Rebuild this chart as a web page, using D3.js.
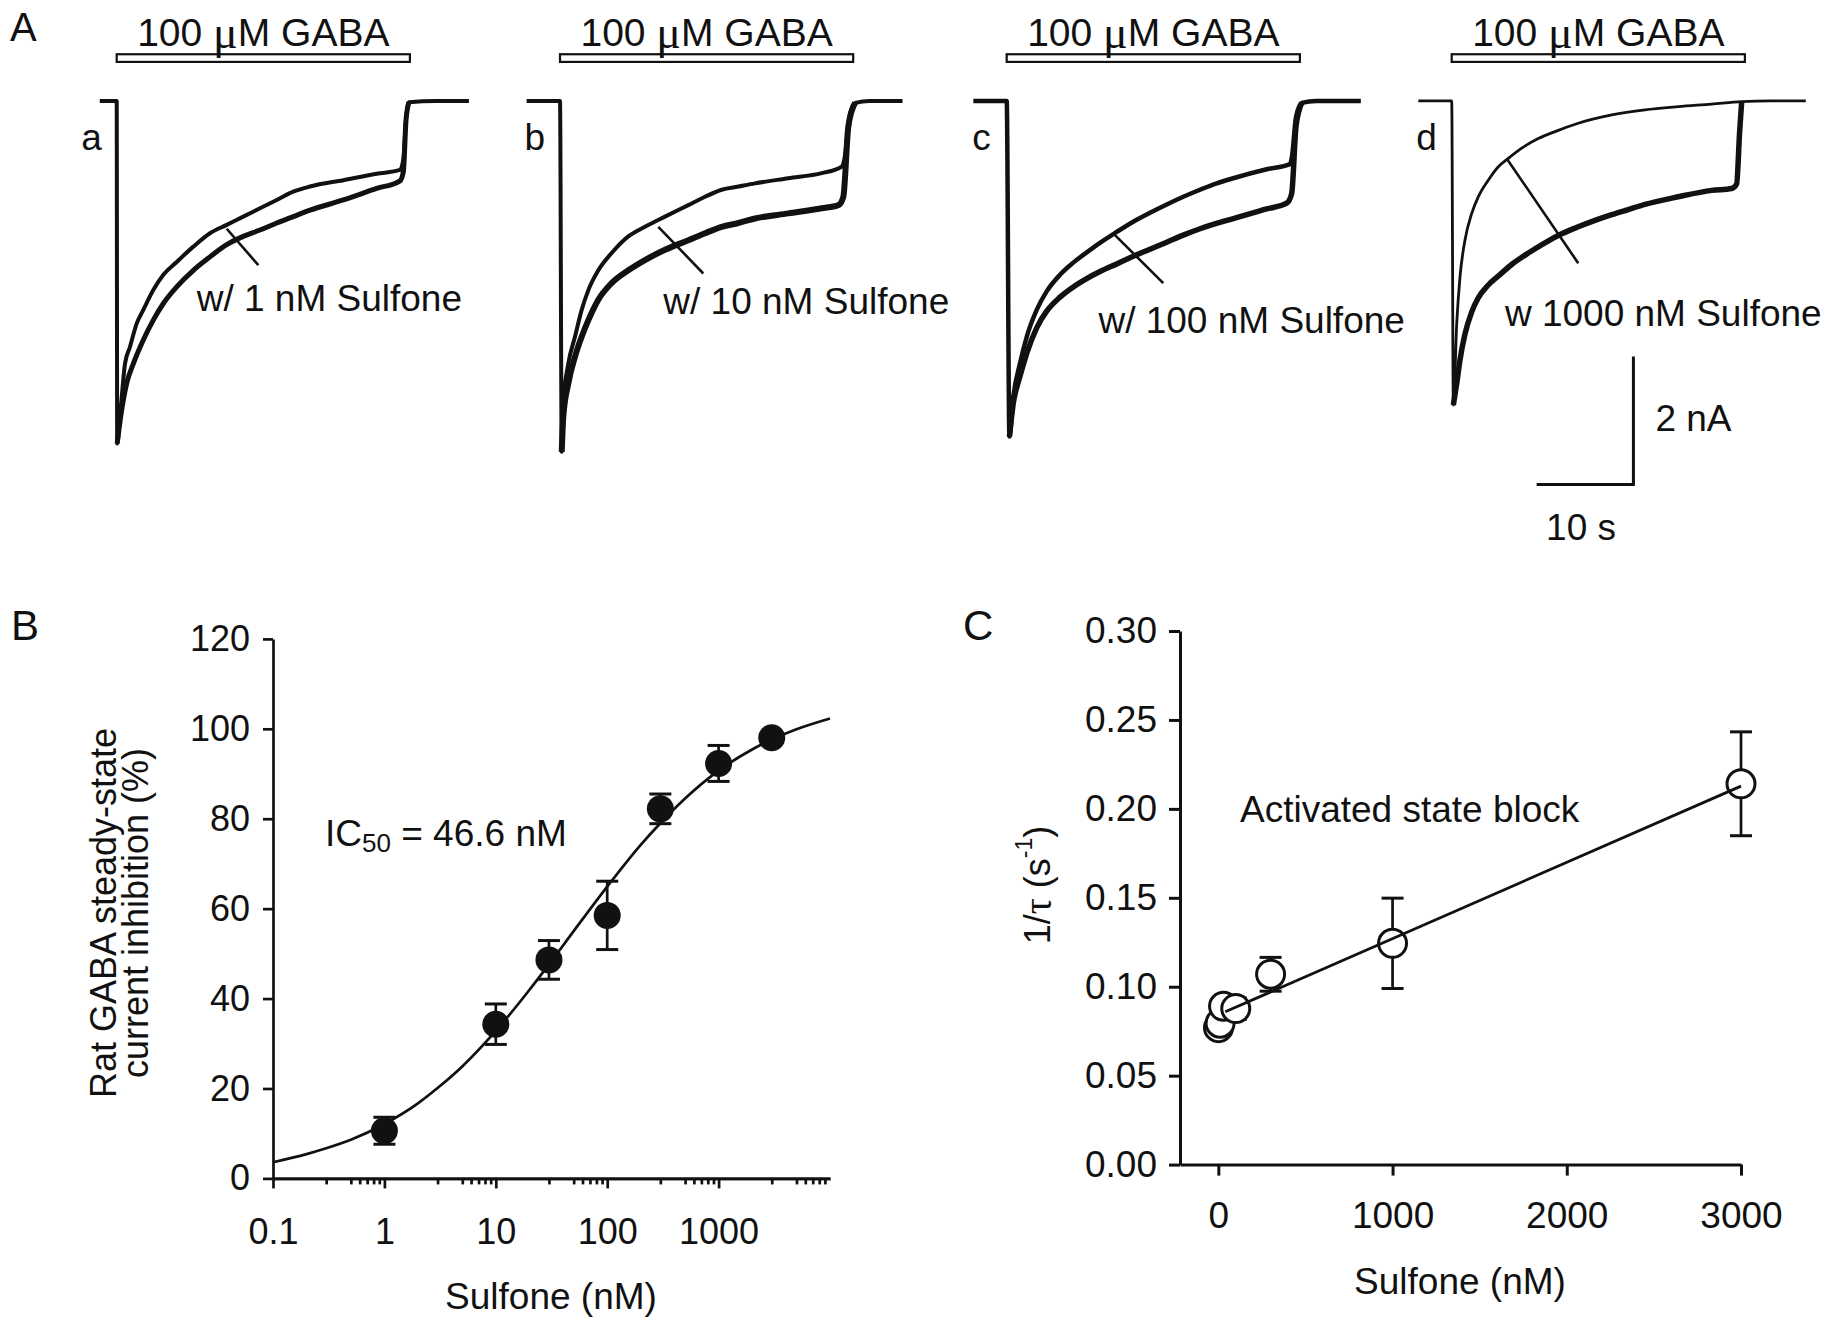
<!DOCTYPE html>
<html><head><meta charset="utf-8">
<script src="https://cdn.jsdelivr.net/npm/d3@7"></script>
<style>
body{margin:0;background:#fff}
svg{display:block;background:#fff}
text{font-family:"Liberation Sans",Arial,sans-serif;fill:#111}
.sym{font-family:"Liberation Serif","Times New Roman",serif}
</style>
</head><body>
<svg id="fig" width="1839" height="1317"></svg>
<script>
// ---------------- Panel A data (time in s, current in nA) ----------------
const gabaOn = [0, 30.3];
const subLabels = ["a", "b", "c", "d"];
const drugLabels = ["w/ 1 nM Sulfone", "w/ 10 nM Sulfone", "w/ 100 nM Sulfone", "w 1000 nM Sulfone"];

const ctrlA_t = [-1.75, 0, 0.05, 0.34, 0.86, 1.37, 2.07, 2.75, 3.78, 4.82, 6.20, 7.92, 9.64, 11.37, 13.08, 14.81, 16.54, 18.25, 19.98, 23.42, 26.87, 29.28, 29.63, 29.9, 30.2, 33, 36.4];
const ctrlA_I = [0, 0, -5.36, -4.94, -4.11, -3.85, -3.48, -3.27, -2.96, -2.72, -2.52, -2.28, -2.07, -1.94, -1.81, -1.68, -1.55, -1.42, -1.34, -1.24, -1.14, -1.08, -0.9, -0.3, -0.02, 0, 0];
const drugA_t = [0.05, 0.4, 1.03, 1.72, 2.75, 3.78, 4.82, 6.20, 7.92, 9.64, 11.37, 13.08, 14.81, 16.54, 18.25, 19.98, 23.42, 26.87, 29.28, 29.63, 29.9, 30.2];
const drugA_I = [-5.36, -4.95, -4.42, -4.11, -3.74, -3.43, -3.17, -2.91, -2.65, -2.44, -2.25, -2.12, -2.02, -1.91, -1.81, -1.71, -1.55, -1.37, -1.25, -1.1, -0.3, -0.02];

const ctrlB_t = [-3.45, 0, 0.18, 0.34, 0.86, 1.55, 2.24, 2.93, 3.96, 5.34, 7.06, 8.78, 10.85, 13.26, 14.99, 16.71, 18.43, 20.15, 23.6, 27.05, 29.11, 29.4, 29.9, 30.5, 32, 35.4];
const ctrlB_I = [0, 0, -5.49, -4.73, -4.11, -3.69, -3.27, -2.96, -2.65, -2.38, -2.12, -1.97, -1.81, -1.63, -1.50, -1.39, -1.34, -1.29, -1.21, -1.13, -1.03, -0.9, -0.25, -0.03, 0, 0];
const drugB_t = [0.18, 0.34, 0.86, 1.55, 2.24, 2.93, 3.96, 5.34, 7.06, 8.78, 10.85, 13.26, 14.99, 16.71, 18.43, 20.15, 23.6, 27.05, 28.77, 29.28, 29.8, 30.5];
const drugB_I = [-5.49, -4.94, -4.42, -4.0, -3.69, -3.43, -3.11, -2.85, -2.65, -2.49, -2.33, -2.18, -2.07, -1.97, -1.91, -1.84, -1.76, -1.68, -1.63, -1.5, -0.4, -0.03];

const ctrlC_t = [-3.45, 0, 0.28, 0.68, 1.37, 2.07, 3.10, 4.13, 5.51, 6.88, 8.27, 9.64, 11.37, 13.08, 14.81, 16.54, 18.25, 19.98, 21.70, 23.42, 26.87, 29.28, 29.5, 29.9, 30.5, 32, 36.6];
const ctrlC_I = [0, 0, -5.25, -4.63, -4.11, -3.69, -3.27, -2.98, -2.72, -2.53, -2.37, -2.22, -2.05, -1.89, -1.75, -1.62, -1.50, -1.39, -1.29, -1.21, -1.07, -0.99, -0.85, -0.25, -0.03, 0, 0];
const drugC_t = [0.28, 0.68, 1.37, 2.07, 3.10, 4.13, 5.51, 6.88, 8.27, 9.64, 11.37, 13.08, 14.81, 16.54, 18.25, 19.98, 23.42, 26.87, 28.94, 29.45, 29.9, 30.5];
const drugC_I = [-5.25, -4.73, -4.31, -3.95, -3.55, -3.29, -3.07, -2.91, -2.78, -2.67, -2.55, -2.43, -2.32, -2.21, -2.10, -2.00, -1.84, -1.69, -1.60, -1.45, -0.4, -0.03];

const ctrlD_t = [-3.45, 0, 0.17, 0.52, 0.86, 1.37, 2.07, 2.75, 3.78, 4.82, 5.85, 7.23, 8.95, 10.68, 13.08, 16.54, 19.98, 23.42, 26.87, 29.97, 33, 36.6];
const ctrlD_I = [0, 0, -4.76, -3.48, -2.75, -2.18, -1.76, -1.50, -1.24, -1.03, -0.90, -0.74, -0.59, -0.48, -0.35, -0.22, -0.14, -0.09, -0.05, -0.01, 0, 0];
const drugD_t = [0.17, 0.52, 0.86, 1.37, 2.07, 2.75, 3.78, 4.82, 6.20, 7.92, 9.64, 11.37, 13.08, 14.81, 16.54, 18.25, 19.98, 23.42, 26.87, 28.94, 29.45, 29.75, 29.97];
const drugD_I = [-4.76, -4.42, -4.05, -3.65, -3.30, -3.08, -2.88, -2.74, -2.56, -2.38, -2.22, -2.08, -1.97, -1.87, -1.78, -1.70, -1.62, -1.50, -1.40, -1.37, -1.3, -0.5, -0.01];

// pointer lines [t0, I0, t1, I1]
const pointerA = [11.37, -2.0, 14.64, -2.57];
const pointerB = [10.16, -1.97, 14.81, -2.70];
const pointerC = [11.19, -2.10, 16.18, -2.85];
const pointerD = [5.68, -0.90, 13.08, -2.54];

// scale bar (panel d units)
const scaleBarT = [8.78, 18.78];
const scaleBarI = [-4.0, -6.0];
const scaleBarLabels = ["2 nA", "10 s"];

// ---------------- Panel B data ----------------
const bConc = [1, 10, 30, 100, 300, 1000, 3000];
const bInhib = [10.6, 34.3, 48.6, 58.5, 82.2, 92.3, 98.0];
const bErr = [3.0, 4.5, 4.3, 7.6, 3.3, 4.0, 1.0];
const bFitX = [0.1, 0.2, 0.3, 0.5, 1, 2, 3, 5, 10, 20, 30, 50, 100, 200, 300, 500, 1000, 2000, 3000, 5000, 10000];
const bFitY = [3.6, 5.4, 6.7, 8.6, 12.1, 16.7, 20.1, 24.9, 32.8, 41.9, 47.6, 55.0, 64.9, 74.2, 79.0, 84.5, 90.7, 95.4, 97.6, 99.9, 102.3];
const bYTicks = [0, 20, 40, 60, 80, 100, 120];
const bXTicks = [0.1, 1, 10, 100, 1000];
const bXTickLabels = ["0.1", "1", "10", "100", "1000"];
const bMinorMult = [3, 5, 6, 7, 8, 9];

// ---------------- Panel C data ----------------
const cConc = [1, 10, 30, 100, 300, 1000, 3000];
const cRate = [0.077, 0.0795, 0.089, 0.0877, 0.107, 0.1244, 0.2141];
const cErr = [0.002, 0.003, 0.002, 0.006, 0.0095, 0.0254, 0.0292];
const cFitX = [40, 3000];
const cFitY = [0.0859, 0.2128];
const cYTicks = [0, 0.05, 0.10, 0.15, 0.20, 0.25, 0.30];
const cXTicks = [0, 1000, 2000, 3000];

// ================= drawing =================
const svg = d3.select("#fig");
const FONT = 37;
const INK = "#111";

// panel letters
svg.append("text").attr("x", 10).attr("y", 41).attr("font-size", 40).text("A");
svg.append("text").attr("x", 11).attr("y", 640).attr("font-size", 42).text("B");
svg.append("text").attr("x", 963).attr("y", 640).attr("font-size", 42).text("C");

// ---- Panel A ----
const baseY = 100.9, pxPerS = 9.676, pxPerNA = 63.92;
const panels = [
  {ox: 116.7, ct: ctrlA_t, ci: ctrlA_I, dt: drugA_t, di: drugA_I, ptr: pointerA, txtT: 8.27, txtI: -3.09, wc: 4, wd: 5},
  {ox: 560.0, ct: ctrlB_t, ci: ctrlB_I, dt: drugB_t, di: drugB_I, ptr: pointerB, txtT: 10.68, txtI: -3.14, wc: 4, wd: 6},
  {ox: 1006.7, ct: ctrlC_t, ci: ctrlC_I, dt: drugC_t, di: drugC_I, ptr: pointerC, txtT: 9.48, txtI: -3.43, wc: 4.5, wd: 5.5},
  {ox: 1451.7, ct: ctrlD_t, ci: ctrlD_I, dt: drugD_t, di: drugD_I, ptr: pointerD, txtT: 5.5, txtI: -3.32, wc: 2.8, wd: 5.5}
];

panels.forEach((p, k) => {
  const x = d3.scaleLinear().domain([0, 10]).range([p.ox, p.ox + 10 * pxPerS]);
  const y = d3.scaleLinear().domain([0, -2]).range([baseY, baseY + 2 * pxPerNA]);
  const g = svg.append("g");
  const line = d3.line().x(d => x(d[0])).y(d => y(d[1])).curve(d3.curveMonotoneX);

  // GABA bar
  g.append("rect").attr("x", x(gabaOn[0])).attr("width", x(gabaOn[1]) - x(gabaOn[0]))
    .attr("y", y(0.73)).attr("height", y(0.61) - y(0.73))
    .attr("fill", "#fff").attr("stroke", INK).attr("stroke-width", 2.2);
  const gt = g.append("text").attr("x", x((gabaOn[0] + gabaOn[1]) / 2)).attr("y", y(1.08))
    .attr("dominant-baseline", "central").attr("text-anchor", "middle").attr("font-size", 39);
  gt.append("tspan").text("100 ");
  gt.append("tspan").attr("class", "sym").attr("font-size", 46).text("\u03BC");
  gt.append("tspan").text("M GABA");

  // sub label
  g.append("text").attr("x", x(-2.6)).attr("y", y(-0.58)).attr("text-anchor", "middle")
    .attr("dominant-baseline", "central").attr("font-size", FONT).text(subLabels[k]);

  // traces
  const ctrl = p.ct.map((t, i) => [t, p.ci[i]]);
  const drug = p.dt.map((t, i) => [t, p.di[i]]);
  g.append("path").attr("d", line(drug)).attr("fill", "none").attr("stroke", INK)
    .attr("stroke-width", p.wd).attr("stroke-linejoin", "round");
  g.append("path").attr("d", line(ctrl)).attr("fill", "none").attr("stroke", INK)
    .attr("stroke-width", p.wc).attr("stroke-linejoin", "round");

  // pointer and text
  g.append("line").attr("x1", x(p.ptr[0])).attr("y1", y(p.ptr[1])).attr("x2", x(p.ptr[2])).attr("y2", y(p.ptr[3]))
    .attr("stroke", INK).attr("stroke-width", 2.6);
  g.append("text").attr("x", x(p.txtT)).attr("y", y(p.txtI)).attr("dominant-baseline", "central")
    .attr("font-size", FONT).text(drugLabels[k]);

  if (k === 3) {
    g.append("path")
      .attr("d", d3.line()([[x(scaleBarT[0]), y(scaleBarI[1])], [x(scaleBarT[1]), y(scaleBarI[1])], [x(scaleBarT[1]), y(scaleBarI[0])]]))
      .attr("fill", "none").attr("stroke", INK).attr("stroke-width", 3);
    g.append("text").attr("x", x(scaleBarT[1]) + 22).attr("y", y((scaleBarI[0] + scaleBarI[1]) / 2) - 2)
      .attr("dominant-baseline", "central").attr("font-size", FONT).text(scaleBarLabels[0]);
    g.append("text").attr("x", x((scaleBarT[0] + scaleBarT[1]) / 2) - 4).attr("y", y(-6.68))
      .attr("text-anchor", "middle").attr("dominant-baseline", "central").attr("font-size", FONT).text(scaleBarLabels[1]);
  }
});

// ---- Panel B ----
{
  const xB = d3.scaleLog().domain([0.1, 10000]).range([273, 830]);
  const yB = d3.scaleLinear().domain([0, 120]).range([1178.4, 638.9]);
  const g = svg.append("g");
  const ya = g.append("g").attr("transform", `translate(${xB(0.1)},0)`)
    .call(d3.axisLeft(yB).tickValues(bYTicks).tickSize(10).tickSizeOuter(0).tickPadding(13));
  const minors = [];
  [0.1, 1, 10, 100, 1000].forEach(dec => bMinorMult.forEach(m => minors.push(+(dec * m).toPrecision(3))));
  const xaMin = g.append("g").attr("transform", `translate(0,${yB(0)})`)
    .call(d3.axisBottom(xB).tickValues(minors).tickSize(6).tickSizeOuter(0).tickFormat(""));
  const xa = g.append("g").attr("transform", `translate(0,${yB(0)})`)
    .call(d3.axisBottom(xB).tickValues(bXTicks).tickSize(10).tickSizeOuter(0).tickPadding(30)
      .tickFormat((d, i) => bXTickLabels[i]));
  [ya, xa, xaMin].forEach(a => {
    a.selectAll("path,line").attr("stroke", INK).attr("stroke-width", 2.7);
    a.selectAll("text").attr("font-size", 36).attr("fill", INK)
      .attr("font-family", '"Liberation Sans",Arial,sans-serif');
  });
  // fit curve
  g.append("path").attr("d", d3.line().x(d => xB(d[0])).y(d => yB(d[1])).curve(d3.curveMonotoneX)(bFitX.map((v, i) => [v, bFitY[i]])))
    .attr("fill", "none").attr("stroke", INK).attr("stroke-width", 2.7);
  // error bars
  bConc.forEach((c, i) => {
    const cx = xB(c);
    g.append("line").attr("x1", cx).attr("x2", cx).attr("y1", yB(bInhib[i] - bErr[i])).attr("y2", yB(bInhib[i] + bErr[i]))
      .attr("stroke", INK).attr("stroke-width", 2.7);
    [bInhib[i] - bErr[i], bInhib[i] + bErr[i]].forEach(v => {
      g.append("line").attr("x1", cx - 11).attr("x2", cx + 11).attr("y1", yB(v)).attr("y2", yB(v))
        .attr("stroke", INK).attr("stroke-width", 3);
    });
  });
  g.selectAll("circle.b").data(bConc).enter().append("circle")
    .attr("cx", d => xB(d)).attr("cy", (d, i) => yB(bInhib[i])).attr("r", 13.5).attr("fill", INK);
  // IC50 label
  const t = g.append("text").attr("x", 325).attr("y", 833).attr("dominant-baseline", "central").attr("font-size", FONT);
  t.append("tspan").text("IC");
  t.append("tspan").attr("font-size", 26).attr("dy", 10).text("50");
  t.append("tspan").attr("dy", -10).text(" = 46.6 nM");
  // axis titles
  g.append("text").attr("x", 551).attr("y", 1296).attr("text-anchor", "middle").attr("dominant-baseline", "central")
    .attr("font-size", FONT).text("Sulfone (nM)");
  const yl = g.append("g").attr("transform", "translate(119,913) rotate(-90)");
  yl.append("text").attr("y", -16).attr("text-anchor", "middle").attr("dominant-baseline", "central").attr("font-size", 36).text("Rat GABA steady-state");
  yl.append("text").attr("y", 16).attr("text-anchor", "middle").attr("dominant-baseline", "central").attr("font-size", 36).text("current inhibition (%)");
}

// ---- Panel C ----
{
  const xC = d3.scaleLinear().domain([-220, 3000]).range([1180, 1741]);
  const yC = d3.scaleLinear().domain([0, 0.3]).range([1164.6, 631]);
  const g = svg.append("g");
  const ya = g.append("g").attr("transform", `translate(${xC(-220)},0)`)
    .call(d3.axisLeft(yC).tickValues(cYTicks).tickSize(11).tickSizeOuter(0).tickPadding(12).tickFormat(d3.format(".2f")));
  const xa = g.append("g").attr("transform", `translate(0,${yC(0)})`)
    .call(d3.axisBottom(xC).tickValues(cXTicks).tickSize(11).tickSizeOuter(0).tickPadding(26).tickFormat(d3.format("d")));
  [ya, xa].forEach(a => {
    a.selectAll("path,line").attr("stroke", INK).attr("stroke-width", 3);
    a.selectAll("text").attr("font-size", FONT).attr("fill", INK)
      .attr("font-family", '"Liberation Sans",Arial,sans-serif');
  });
  cConc.forEach((c, i) => {
    const cx = xC(c);
    g.append("line").attr("x1", cx).attr("x2", cx).attr("y1", yC(cRate[i] - cErr[i])).attr("y2", yC(cRate[i] + cErr[i]))
      .attr("stroke", INK).attr("stroke-width", 2.7);
    [cRate[i] - cErr[i], cRate[i] + cErr[i]].forEach(v => {
      g.append("line").attr("x1", cx - 11).attr("x2", cx + 11).attr("y1", yC(v)).attr("y2", yC(v))
        .attr("stroke", INK).attr("stroke-width", 3);
    });
  });
  g.selectAll("circle.c").data(cConc).enter().append("circle")
    .attr("cx", d => xC(d)).attr("cy", (d, i) => yC(cRate[i])).attr("r", 14)
    .attr("fill", "#fff").attr("stroke", INK).attr("stroke-width", 3);
  g.append("path").attr("d", d3.line().x(d => xC(d[0])).y(d => yC(d[1]))(cFitX.map((v, i) => [v, cFitY[i]])))
    .attr("fill", "none").attr("stroke", INK).attr("stroke-width", 2.8);
  g.append("text").attr("x", 1240).attr("y", 809).attr("dominant-baseline", "central").attr("font-size", FONT).text("Activated state block");
  g.append("text").attr("x", 1460).attr("y", 1281).attr("text-anchor", "middle").attr("dominant-baseline", "central")
    .attr("font-size", FONT).text("Sulfone (nM)");
  const yl = g.append("text").attr("transform", "translate(1037,885) rotate(-90)").attr("text-anchor", "middle")
    .attr("dominant-baseline", "central").attr("font-size", 36);
  yl.append("tspan").text("1/");
  yl.append("tspan").attr("class", "sym").attr("font-size", 40).text("\u03C4");
  yl.append("tspan").text(" (s");
  yl.append("tspan").attr("font-size", 23).attr("dy", -13).text("-1");
  yl.append("tspan").attr("dy", 13).text(")");
}
</script>
</body></html>
